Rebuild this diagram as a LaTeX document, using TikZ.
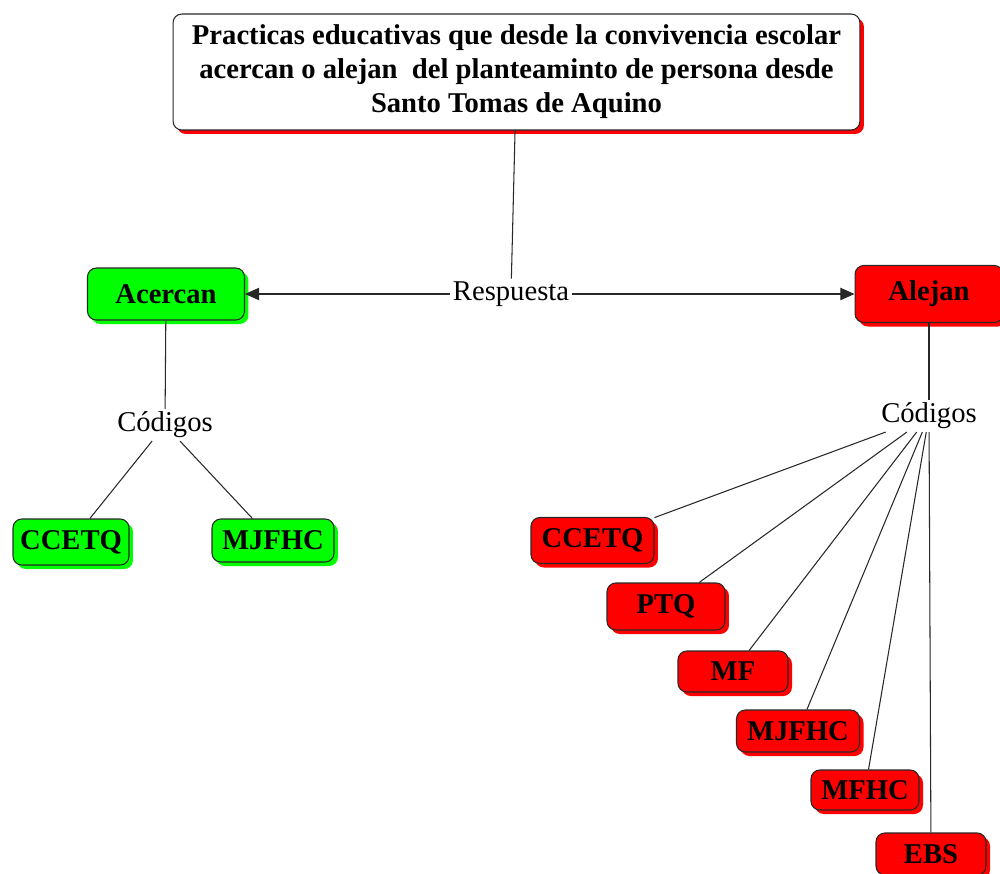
\documentclass[tikz,border=0pt]{standalone}
\usepackage{fontspec}
\setmainfont{Liberation Serif}
\usetikzlibrary{arrows.meta,shadows}
\definecolor{boxgreen}{RGB}{0,255,0}
\definecolor{boxred}{RGB}{255,0,0}
\definecolor{edgegray}{RGB}{40,40,40}
\tikzset{
      conceptbox/.style={
        rounded corners=5pt,
        draw=edgegray,
        line width=0.6pt,
        align=center,
        inner sep=2pt,
        font=\fontsize{16.3}{19.3}\selectfont\bfseries
      },
      greenbox/.style={
        conceptbox,
        fill=boxgreen,
        drop shadow={shadow xshift=0.08cm,shadow yshift=-0.08cm,fill=boxgreen,opacity=1}
      },
      redbox/.style={
        conceptbox,
        fill=boxred,
        drop shadow={shadow xshift=0.08cm,shadow yshift=-0.08cm,fill=boxred,opacity=1}
      },
      linkword/.style={
        inner sep=1.5pt,
        font=\fontsize{16.3}{18}\selectfont
      },
      link/.style={draw=edgegray, line width=0.6pt}
    }

\begin{document}
\begin{tikzpicture}[x=0.02cm,y=-0.02cm]
    \useasboundingbox (0,0) rectangle (1000,873);
    \node[conceptbox, fill=white, minimum width=13.74cm, minimum height=2.32cm,
      drop shadow={shadow xshift=0.08cm,shadow yshift=-0.08cm,fill=boxred,opacity=1}]
      (titulo) at (516.5,72) {Practicas educativas que desde la convivencia escolar\\acercan o alejan\ \ del planteaminto de persona desde\\Santo Tomas de Aquino};
    \node[linkword] (resp) at (511,294) {Respuesta};
    \node[greenbox, minimum width=3.14cm, minimum height=1.04cm] (acercan) at (166,294) {Acercan};
    \node[redbox, minimum width=2.96cm, minimum height=1.14cm] (alejan) at (929,294) {Alejan};
    \node[linkword] (codA) at (165,425) {Códigos};
    \node[linkword] (codB) at (929,416) {Códigos};
    % codigos de acercan
    \node[greenbox, minimum width=2.32cm, minimum height=0.92cm] (a1) at (71,542) {CCETQ};
    \node[greenbox, minimum width=2.44cm, minimum height=0.86cm] (a2) at (273,540.5) {MJFHC};
    % codigos de alejan
    \node[redbox, minimum width=2.46cm, minimum height=0.92cm] (b1) at (592.5,540.5) {CCETQ};
    \node[redbox, minimum width=2.36cm, minimum height=0.94cm] (b2) at (666,606.5) {PTQ};
    \node[redbox, minimum width=2.2cm, minimum height=0.82cm] (b3) at (733,671.5) {MF};
    \node[redbox, minimum width=2.46cm, minimum height=0.84cm] (b4) at (798,731) {MJFHC};
    \node[redbox, minimum width=2.16cm, minimum height=0.8cm] (b5) at (865,790) {MFHC};
    \node[redbox, minimum width=2.2cm, minimum height=0.84cm] (b6) at (931,854) {EBS};
    \draw[link] (titulo) -- (resp);
    \draw[link, -{Triangle[length=8pt,width=7pt]}] (resp) -- (acercan);
    \draw[link, -{Triangle[length=8pt,width=7pt]}] (resp) -- (alejan);
    \draw[link] (acercan) -- (codA);
    \draw[link] (alejan) -- (codB);
    \foreach \k in {a1,a2}
      \draw[link] (codA) -- (\k);
    \foreach \k in {b1,b2,b3,b4,b5,b6}
      \draw[link] (codB) -- (\k);
    \end{tikzpicture}
\end{document}
